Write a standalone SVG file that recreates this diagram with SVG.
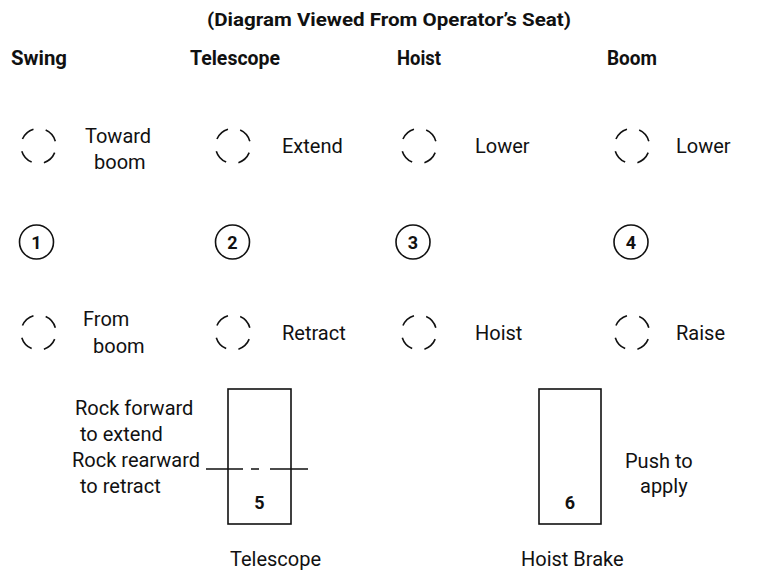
<svg xmlns="http://www.w3.org/2000/svg" width="767" height="573" viewBox="0 0 767 573">
<style>
text{font-family:Roboto,"Liberation Sans",sans-serif;fill:#111;}
.t{font-size:20px;}
.b{font-size:20px;font-weight:bold;}
.n{font-size:18px;font-weight:bold;text-anchor:middle;}
.d{fill:none;stroke:#111;stroke-width:1.6;stroke-dasharray:15 12.5;stroke-dashoffset:20.7;}
.c{fill:none;stroke:#111;stroke-width:1.6;}
.box{fill:#fff;stroke:#111;stroke-width:1.6;}
</style>
<rect width="767" height="573" fill="#fff"/>
<text x="389" y="26" font-size="19" font-weight="bold" text-anchor="middle" textLength="364" lengthAdjust="spacingAndGlyphs">(Diagram Viewed From Operator’s Seat)</text>
<g id="headers">
<text class="b" x="11" y="65" textLength="56" lengthAdjust="spacingAndGlyphs">Swing</text>
<text class="b" x="190" y="65" textLength="90" lengthAdjust="spacingAndGlyphs">Telescope</text>
<text class="b" x="397" y="65" textLength="44" lengthAdjust="spacingAndGlyphs">Hoist</text>
<text class="b" x="607" y="65" textLength="50" lengthAdjust="spacingAndGlyphs">Boom</text>
</g>
<g id="swing">
<circle class="d" cx="38.5" cy="146" r="17.5"/>
<text class="t" x="85" y="143">Toward</text>
<text class="t" x="94" y="169">boom</text>
<circle class="c" cx="36.5" cy="242" r="17"/>
<text class="n" x="36.5" y="248.5">1</text>
<circle class="d" cx="38.5" cy="332.5" r="17.5"/>
<text class="t" x="83" y="326">From</text>
<text class="t" x="93" y="353">boom</text>
</g>
<g id="telescope">
<circle class="d" cx="233" cy="146" r="17.5"/>
<text class="t" x="282" y="153">Extend</text>
<circle class="c" cx="232.5" cy="242" r="17"/>
<text class="n" x="232.5" y="248.5">2</text>
<circle class="d" cx="233" cy="332.5" r="17.5"/>
<text class="t" x="282" y="340">Retract</text>
</g>
<g id="hoist">
<circle class="d" cx="419" cy="146" r="17.5"/>
<text class="t" x="475" y="153">Lower</text>
<circle class="c" cx="413" cy="242" r="17"/>
<text class="n" x="413" y="248.5">3</text>
<circle class="d" cx="419" cy="332.5" r="17.5"/>
<text class="t" x="475" y="340">Hoist</text>
</g>
<g id="boom">
<circle class="d" cx="632" cy="146" r="17.5"/>
<text class="t" x="676" y="153">Lower</text>
<circle class="c" cx="631" cy="242" r="17"/>
<text class="n" x="631" y="248.5">4</text>
<circle class="d" cx="632" cy="332.5" r="17.5"/>
<text class="t" x="676" y="340">Raise</text>
</g>
<g id="lever5">
<rect class="box" x="228" y="389" width="63" height="135"/>
<text class="n" x="259.5" y="509">5</text>
<text class="t" x="75" y="415">Rock forward</text>
<text class="t" x="80" y="441">to extend</text>
<text class="t" x="72" y="467">Rock rearward</text>
<text class="t" x="80" y="493">to retract</text>
<text class="t" x="230" y="566">Telescope</text>
</g>
<g id="connectors">
<path class="c" d="M206 469H243M251 469H259M270 469H308"/>
</g>
<g id="lever6">
<rect class="box" x="539" y="389" width="62" height="135"/>
<text class="n" x="570" y="509">6</text>
<text class="t" x="625" y="468">Push to</text>
<text class="t" x="640" y="493">apply</text>
<text class="t" x="521" y="566">Hoist Brake</text>
</g>
</svg>
